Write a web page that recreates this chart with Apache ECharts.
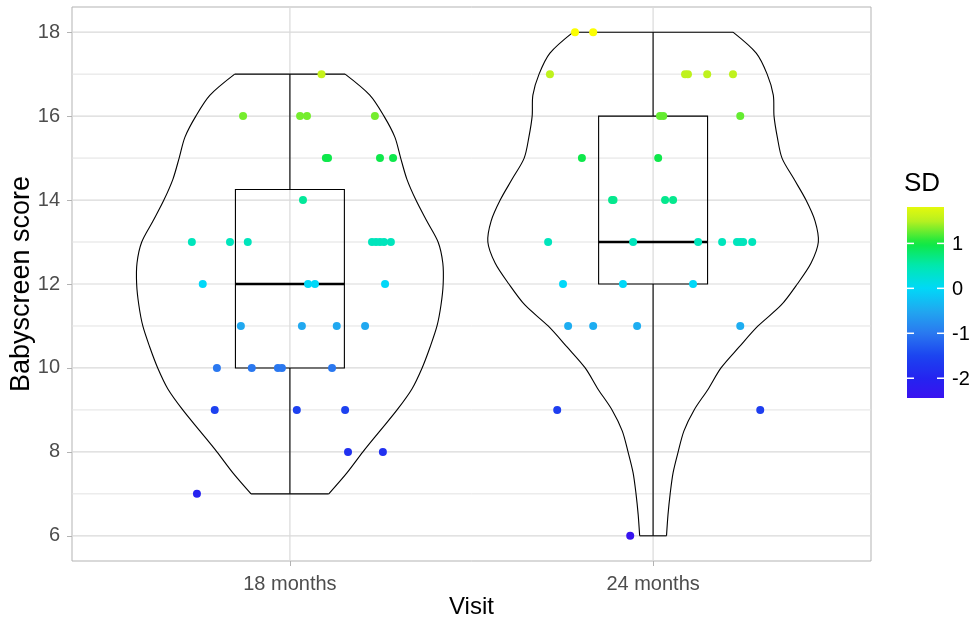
<!DOCTYPE html>
<html>
<head>
<meta charset="utf-8">
<script src="https://cdn.jsdelivr.net/npm/echarts@6/dist/echarts.min.js"></script>
<style>html,body{margin:0;padding:0;background:#fff}#chart{width:979px;height:622px}</style>
</head>
<body>
<div id="chart"></div>
<script>
// ---- data ----
const categories = ['18 months', '24 months'];
const xCenters = [1, 2];
const yTicks = [6, 8, 10, 12, 14, 16, 18];
const yMinorGrid = [7, 9, 11, 13, 15, 17];
const sdTicks = [1, 0, -1, -2];
const sdRange = [-2.44, 1.81];

// 18 months: score, horizontal jitter (category units), SD
const m18Score  = [17, 16, 16, 16, 16, 15, 15, 15, 15, 14, 13, 13, 13, 13, 13, 13, 13, 13, 12, 12, 12, 12, 11, 11, 11, 11, 10, 10, 10, 10, 10, 9, 9, 9, 8, 8, 7];
const m18Jitter = [0.087, -0.129, 0.028, 0.047, 0.234, 0.099, 0.105, 0.248, 0.284, 0.036, -0.27, -0.165, -0.116, 0.226, 0.237, 0.248, 0.259, 0.278, -0.24, 0.05, 0.069, 0.262, -0.135, 0.033, 0.129, 0.207, -0.201, -0.105, -0.033, -0.022, 0.116, -0.207, 0.019, 0.152, 0.16, 0.256, -0.256];
const m18SD     = [1.6, 1.3, 1.3, 1.3, 1.3, 0.95, 0.95, 0.95, 0.95, 0.6, 0.42, 0.42, 0.42, 0.42, 0.42, 0.42, 0.42, 0.42, 0.0, 0.0, 0.0, 0.0, -0.5, -0.5, -0.5, -0.5, -1.0, -1.0, -1.0, -1.0, -1.0, -1.55, -1.55, -1.55, -1.8, -1.8, -2.05];

// 24 months
const m24Score  = [18, 18, 17, 17, 17, 17, 17, 16, 16, 16, 15, 15, 14, 14, 14, 14, 13, 13, 13, 13, 13, 13, 13, 13, 12, 12, 12, 11, 11, 11, 11, 9, 9, 6];
const m24Jitter = [-0.215, -0.165, -0.284, 0.088, 0.096, 0.149, 0.22, 0.019, 0.028, 0.24, -0.196, 0.014, -0.113, -0.109, 0.033, 0.055, -0.289, -0.055, 0.124, 0.19, 0.231, 0.24, 0.248, 0.273, -0.248, -0.083, 0.11, -0.234, -0.165, -0.044, 0.24, -0.264, 0.295, -0.063];
const m24SD     = [1.97, 1.97, 1.55, 1.55, 1.55, 1.55, 1.55, 1.25, 1.25, 1.25, 0.95, 0.95, 0.65, 0.65, 0.65, 0.65, 0.42, 0.42, 0.42, 0.42, 0.42, 0.42, 0.42, 0.42, 0.0, 0.0, 0.0, -0.45, -0.45, -0.45, -0.45, -1.6, -1.6, -2.4];

// violin outlines: score levels and half-widths (category units)
const violin18Y  = [7, 7.5, 8, 8.5, 9, 9.5, 10, 10.5, 11, 11.5, 12, 12.5, 13, 13.5, 14, 14.5, 15, 15.5, 16, 16.5, 17];
const violin18HW = [0.107, 0.157, 0.201, 0.248, 0.295, 0.336, 0.364, 0.386, 0.405, 0.416, 0.422, 0.421, 0.408, 0.377, 0.347, 0.322, 0.305, 0.289, 0.259, 0.220, 0.152];
const violin24Y  = [6, 6.5, 7, 7.5, 8, 8.5, 9, 9.5, 10, 10.5, 11, 11.5, 12, 12.5, 13, 13.5, 14, 14.5, 15, 15.5, 16, 16.5, 17, 17.5, 18];
const violin24HW = [0.037, 0.041, 0.047, 0.055, 0.069, 0.085, 0.113, 0.152, 0.187, 0.237, 0.289, 0.353, 0.397, 0.435, 0.455, 0.446, 0.421, 0.388, 0.355, 0.342, 0.333, 0.331, 0.314, 0.284, 0.220];

// boxplot stats: [lower whisker, Q1, median, Q3, upper whisker]
const box18 = [7, 10, 12, 14.25, 17];
const box24 = [6, 12, 13, 16, 18];

// colour scale stops for SD (-2.5 ... 2.0 in steps of 0.5)
const sdColorStops = ['#3C10F0', '#2424F0', '#1C44F0', '#2A78F0', '#20A8F0', '#00D8F8', '#00E8B0', '#10E840', '#B8F020', '#FFFF00'];
const sdColorMin = -2.5, sdColorMax = 2.0;

// ---- build ----
const violinsY = [violin18Y, violin24Y];
const violinsHW = [violin18HW, violin24HW];
const boxes = [box18, box24];
const yMin = 5.4, yMax = 18.6, xMin = 0.4, xMax = 2.6;

const points = [];
[[m18Score, m18Jitter, m18SD], [m24Score, m24Jitter, m24SD]].forEach((g, gi) => {
  g[0].forEach((s, i) => points.push([xCenters[gi] + g[1][i], s, g[2][i]]));
});

const lineStyle = { stroke: '#000', lineWidth: 1.1, fill: null };

function renderViolin(params, api) {
  const g = params.dataIndex;
  const ys = violinsY[g], hw = violinsHW[g], cx = xCenters[g];
  const left = ys.map((y, i) => api.coord([cx - hw[i], y]));
  const right = ys.map((y, i) => api.coord([cx + hw[i], y]));
  const n = ys.length - 1;
  return {
    type: 'group',
    children: [
      { type: 'polyline', shape: { points: left, smooth: 0.3 }, style: lineStyle },
      { type: 'polyline', shape: { points: right, smooth: 0.3 }, style: lineStyle },
      { type: 'line', shape: { x1: left[0][0], y1: left[0][1], x2: right[0][0], y2: right[0][1] }, style: lineStyle },
      { type: 'line', shape: { x1: left[n][0], y1: left[n][1], x2: right[n][0], y2: right[n][1] }, style: lineStyle }
    ]
  };
}

function renderBox(params, api) {
  const g = params.dataIndex;
  const b = boxes[g], cx = xCenters[g], hw = 0.15;
  const tl = api.coord([cx - hw, b[3]]);
  const br = api.coord([cx + hw, b[1]]);
  const mL = api.coord([cx - hw, b[2]]);
  const mR = api.coord([cx + hw, b[2]]);
  const wTop = api.coord([cx, b[4]]);
  const wQ3 = api.coord([cx, b[3]]);
  const wQ1 = api.coord([cx, b[1]]);
  const wBot = api.coord([cx, b[0]]);
  return {
    type: 'group',
    children: [
      { type: 'line', shape: { x1: wTop[0], y1: wTop[1], x2: wQ3[0], y2: wQ3[1] }, style: lineStyle },
      { type: 'line', shape: { x1: wQ1[0], y1: wQ1[1], x2: wBot[0], y2: wBot[1] }, style: lineStyle },
      { type: 'rect', shape: { x: tl[0], y: tl[1], width: br[0] - tl[0], height: br[1] - tl[1] }, style: lineStyle },
      { type: 'line', shape: { x1: mL[0], y1: mL[1], x2: mR[0], y2: mR[1] }, style: { stroke: '#000', lineWidth: 2.4 } }
    ]
  };
}

function hLine(color, width) {
  return function (params, api) {
    const v = api.value(1);
    const a = api.coord([xMin, v]), b = api.coord([xMax, v]);
    return { type: 'line', shape: { x1: a[0], y1: a[1], x2: b[0], y2: b[1] }, style: { stroke: color, lineWidth: width } };
  };
}
function vLine(color, width) {
  return function (params, api) {
    const v = api.value(0);
    const a = api.coord([v, yMin]), b = api.coord([v, yMax]);
    return { type: 'line', shape: { x1: a[0], y1: a[1], x2: b[0], y2: b[1] }, style: { stroke: color, lineWidth: width } };
  };
}

// legend colour bar
function hexToRgb(h) { return [parseInt(h.slice(1, 3), 16), parseInt(h.slice(3, 5), 16), parseInt(h.slice(5, 7), 16)]; }
function sdColor(v) {
  const t = (v - sdColorMin) / (sdColorMax - sdColorMin) * (sdColorStops.length - 1);
  const i = Math.max(0, Math.min(sdColorStops.length - 2, Math.floor(t)));
  const f = Math.max(0, Math.min(1, t - i));
  const a = hexToRgb(sdColorStops[i]), b = hexToRgb(sdColorStops[i + 1]);
  return 'rgb(' + a.map((c, k) => Math.round(c + (b[k] - c) * f)).join(',') + ')';
}
const barX = 907, barY = 207, barW = 37, barH = 191;
const gradStops = [];
for (let k = 0; k <= 40; k++) {
  const v = sdRange[1] - (sdRange[1] - sdRange[0]) * k / 40;
  gradStops.push({ offset: k / 40, color: sdColor(v) });
}
const font = '"Liberation Sans", Arial, sans-serif';
const legendGraphics = [
  { type: 'text', x: 904, y: 184, style: { text: 'SD', font: '26px ' + font, fill: '#000', verticalAlign: 'middle', textVerticalAlign: 'middle' } },
  { type: 'rect', shape: { x: barX, y: barY, width: barW, height: barH },
    style: { fill: { type: 'linear', x: 0, y: 0, x2: 0, y2: 1, colorStops: gradStops } } }
];
sdTicks.forEach(v => {
  const y = barY + (sdRange[1] - v) / (sdRange[1] - sdRange[0]) * barH;
  legendGraphics.push({ type: 'line', shape: { x1: barX, y1: y, x2: barX + 7, y2: y }, style: { stroke: '#fff', lineWidth: 1.5 } });
  legendGraphics.push({ type: 'line', shape: { x1: barX + barW - 7, y1: y, x2: barX + barW, y2: y }, style: { stroke: '#fff', lineWidth: 1.5 } });
  legendGraphics.push({ type: 'text', x: 952, y: y + 1, style: { text: String(v), font: '20px ' + font, fill: '#000', textVerticalAlign: 'middle', verticalAlign: 'middle' } });
});

const chart = echarts.init(document.getElementById('chart'), null, { renderer: 'canvas' });
chart.setOption({
  animation: false,
  backgroundColor: '#fff',
  grid: { left: 72, right: 108, top: 7, bottom: 61, containLabel: false, outerBoundsMode: 'none',
    show: true, borderColor: '#B3B3B3', borderWidth: 1, backgroundColor: 'transparent' },
  xAxis: {
    type: 'value', min: xMin, max: xMax,
    name: 'Visit', nameLocation: 'middle', nameGap: 34, nameMoveOverlap: false,
    nameTextStyle: { fontFamily: font, fontSize: 24, color: '#000' },
    axisLine: { show: false },
    splitLine: { show: false },
    axisTick: { show: true, length: 5, lineStyle: { color: '#B3B3B3' }, customValues: xCenters },
    axisLabel: { fontFamily: font, fontSize: 20, color: '#4D4D4D', margin: 13, customValues: xCenters,
      formatter: v => categories[Math.round(v) - 1] || '' }
  },
  yAxis: {
    type: 'value', min: yMin, max: yMax,
    name: 'Babyscreen score', nameLocation: 'middle', nameGap: 37, nameMoveOverlap: false,
    nameTextStyle: { fontFamily: font, fontSize: 27, color: '#000' },
    axisLine: { show: false },
    splitLine: { show: false },
    axisTick: { show: true, length: 5, lineStyle: { color: '#B3B3B3' }, customValues: yTicks },
    axisLabel: { fontFamily: font, fontSize: 20, color: '#4D4D4D', margin: 12, customValues: yTicks }
  },
  visualMap: {
    type: 'continuous', show: false, min: sdColorMin, max: sdColorMax, dimension: 2, seriesIndex: 5,
    inRange: { color: sdColorStops }
  },
  graphic: legendGraphics,
  series: [
    { type: 'custom', silent: true, z: 1, renderItem: hLine('#E2E2E2', 1), data: yMinorGrid.map(v => [1, v]) },
    { type: 'custom', silent: true, z: 1, renderItem: hLine('#D9D9D9', 1.2), data: yTicks.map(v => [1, v]) },
    { type: 'custom', silent: true, z: 1, renderItem: vLine('#D9D9D9', 1.2), data: xCenters.map(c => [c, 12]) },
    { type: 'custom', silent: true, z: 2, renderItem: renderViolin, data: xCenters.map((c, i) => [c, boxes[i][2]]) },
    { type: 'custom', silent: true, z: 3, renderItem: renderBox, data: xCenters.map((c, i) => [c, boxes[i][2]]) },
    { type: 'scatter', z: 4, symbolSize: 8, data: points, itemStyle: { opacity: 1 } }
  ]
});
</script>
</body>
</html>
